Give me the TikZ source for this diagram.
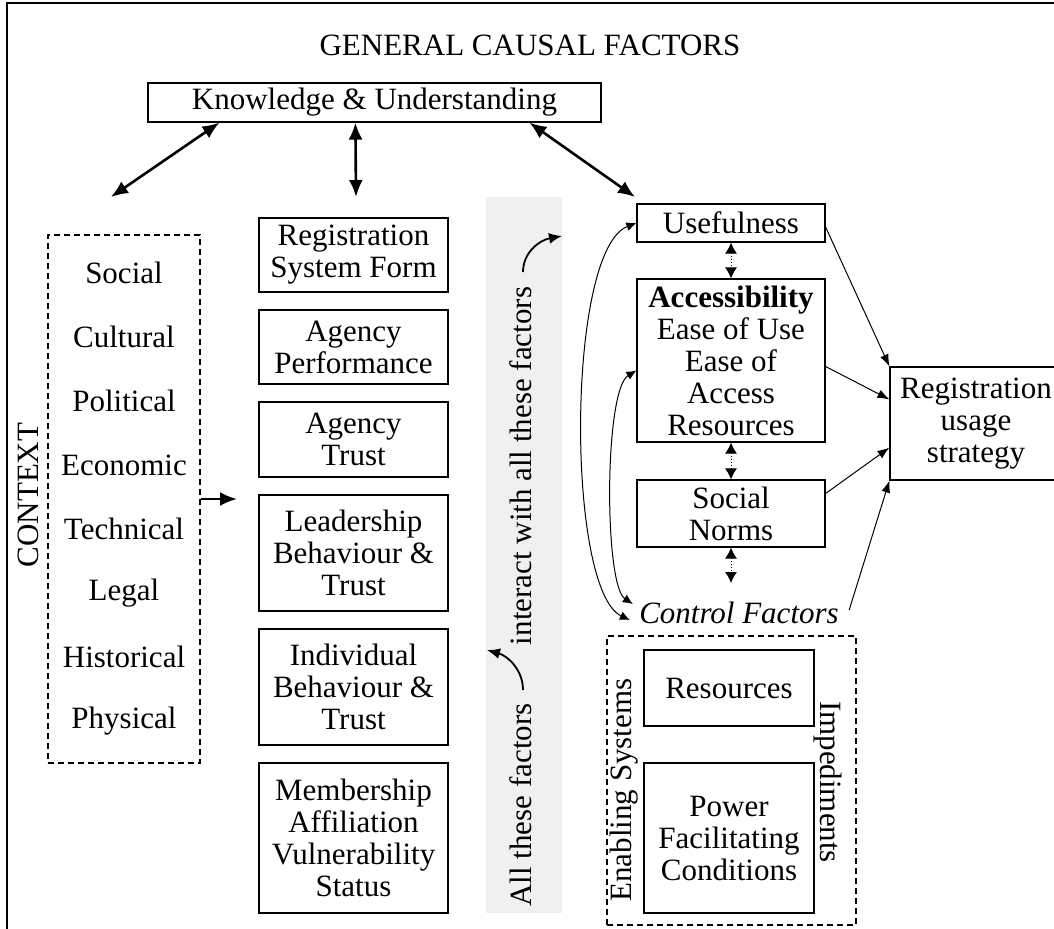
\documentclass[tikz,border=0pt]{standalone}
\usepackage{fontspec}
\setmainfont{Liberation Serif}
\usetikzlibrary{arrows.meta,calc}
\begin{document}
\begin{tikzpicture}[x=0.5pt,y=-0.5pt,
  every node/.style={font=\fontsize{15.5}{16}\selectfont, inner sep=0pt, align=center},
  sz/.style 2 args={minimum width=#1*0.5pt, minimum height=#2*0.5pt},
  box/.style={draw, line width=0.6pt},
  dbox/.style={draw, line width=0.6pt, dash pattern=on 3pt off 2pt},
  thk/.style={line width=1.3pt, arrows={Latex[length=8.5pt,width=7pt]-Latex[length=8.5pt,width=7pt]}},
  thkone/.style={line width=1.3pt, arrows={-Latex[length=8.5pt,width=7pt]}},
  tarr/.style={line width=0.5pt, arrows={-Latex[length=6pt,width=4.5pt]}},
  darr/.style={line width=0.5pt, densely dotted, arrows={Latex[length=5.5pt,width=6pt]-Latex[length=5.5pt,width=6pt]}},
  carr/.style={line width=0.5pt, arrows={Latex[length=5pt,width=4.5pt]-Latex[length=5pt,width=4.5pt]}},
  barr/.style={line width=0.9pt, arrows={-Latex[length=6.5pt,width=5.5pt]}}
]
\useasboundingbox (0,0) rectangle (1054,928);
% outer frame (cropped at right and bottom)
\draw[line width=0.6pt] (7,960) -- (7,3) -- (1080,3);

\node (title) at (530,45) {GENERAL CAUSAL FACTORS};
\node[box,sz={453}{39}] (kb) at (374.5,102.5) {Knowledge \& Understanding};

\coordinate (k1) at (111,197);
\coordinate (k2) at (356,197);
\coordinate (k3) at (635,197);
\draw[thk] ($(kb.south west)+(72,0)$) -- (k1);
\draw[thk] ($(kb.south west)+(208,0)$) -- (k2);
\draw[thk] ($(kb.south west)+(382,0)$) -- (k3);

% context
\node[dbox,sz={152}{528}] (ctx) at (124,499) {};
\foreach \t [count=\i from 0] in {Social,Cultural,Political,Economic,Technical,Legal,Historical,Physical}
  \node (ci\i) at (124,{273+64*\i}) {\t};
\node[rotate=90] (ctxlabel) at (28,495) {CONTEXT};
\coordinate (mc) at (237,499);
\draw[thkone] (ctx.east) -- (mc);

% middle column
\node[box,sz={189}{74}] (m1) at (353.5,255) {Registration\\System Form};
\node[box,sz={189}{74}] (m2) at (353.5,347) {Agency\\Performance};
\node[box,sz={189}{75}] (m3) at (353.5,439.5) {Agency\\Trust};
\node[box,sz={189}{116}] (m4) at (353.5,553) {Leadership\\Behaviour \&\\Trust};
\node[box,sz={189}{116}] (m5) at (353.5,687) {Individual\\Behaviour \&\\Trust};
\node[box,sz={189}{150}] (m6) at (353.5,838) {Membership\\Affiliation\\Vulnerability\\Status};

% band
\node[fill=black!6,sz={76}{716}] (band) at (524,555) {};
\node[rotate=90] (t1) at (521,805) {All these factors};
\node[rotate=90] (t2) at (521,466) {interact with all these factors};
\coordinate (b1s) at (523,690);
\coordinate (b1e) at (487,650);
\coordinate (b2s) at (523,272);
\coordinate (b2e) at (562,236);
\draw[barr] (b1s) .. controls (523,670) and (508,656) .. (b1e);
\draw[barr] (b2s) .. controls (523,252) and (540,240) .. (b2e);

% right column
\node[box,sz={188}{38}] (use) at (731,223) {Usefulness};
\node[box,sz={188}{163}] (acc) at (731,360.5) {\textbf{Accessibility}\\Ease of Use\\Ease of\\Access\\Resources};
\node[box,sz={188}{67}] (soc) at (731,513.5) {Social\\Norms};
\node[font=\fontsize{15.5}{16}\selectfont\itshape] (cf) at (739,613) {Control Factors};
\coordinate (sb) at (731,583);
\draw[darr] (use) -- (acc);
\draw[darr] (acc) -- (soc);
\draw[darr] (soc) -- (sb);

\node[box,sz={172}{113}] (reg) at (976,423.5) {Registration\\usage\\strategy};
\draw[tarr] ($(use.east)+(0,4)$) -- (reg.north west);
\draw[tarr] ($(acc.east)+(0,6)$) -- ($(reg.north west)+(0,33)$);
\draw[tarr] ($(soc.east)+(0,-20)$) -- ($(reg.south west)+(0,-33)$);
\draw[tarr] ($(cf.east)+(10,-3)$) -- (reg.south west);

\coordinate (cfo) at ($(cf.west)+(-9,7)$);
\coordinate (cfi) at ($(cf.west)+(-6,-9)$);
\draw[carr] (use.west) .. controls (566,250) and (566,590) .. (cfo);
\draw[carr] ($(acc.west)+(0,10)$) .. controls (604,390) and (604,585) .. (cfi);

% control factors group
\node[dbox,sz={249}{289}] (cbox) at (731.5,780.5) {};
\node[box,sz={170}{76}] (res) at (729,688) {Resources};
\node[box,sz={170}{150}] (pow) at (729,838) {Power\\Facilitating\\Conditions};
\node[rotate=90] (en) at (624,790) {Enabling Systems};
\node[rotate=-90] (imp) at (828,782) {Impediments};
\end{tikzpicture}
\end{document}
